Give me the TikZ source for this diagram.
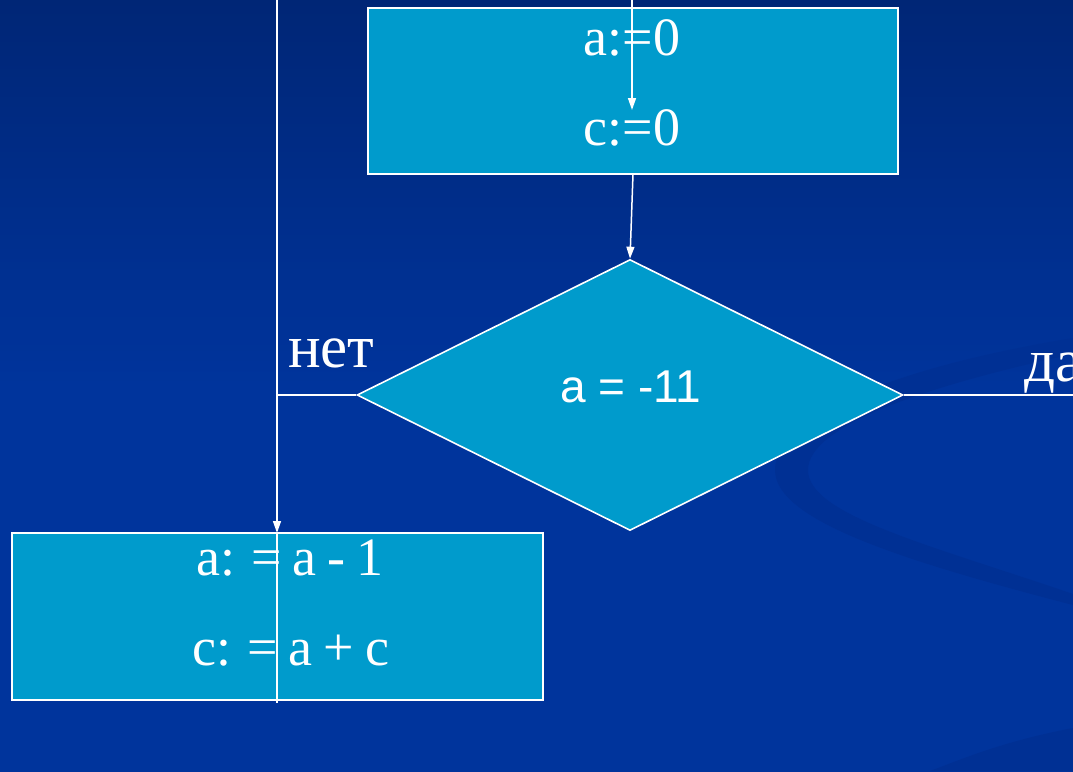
\documentclass[tikz,border=0pt]{standalone}
\usepackage{fontspec}
\setmainfont{Liberation Serif}
\newfontfamily\arialfont{Liberation Sans}
\usetikzlibrary{arrows.meta,shapes.geometric}
\definecolor{bgtop}{RGB}{0,38,118}
\definecolor{bgbot}{RGB}{0,52,156}
\definecolor{swoosh}{RGB}{0,48,148}
\definecolor{boxfill}{RGB}{0,155,204}
\newcommand{\tightspace}{\spaceskip=11pt\relax}
\tikzset{
  blk/.style={draw=white, line width=1.6pt, fill=boxfill, rectangle, inner sep=0pt},
  cnd/.style={draw=white, line width=1.6pt, fill=boxfill, diamond, inner sep=0pt},
  wire/.style={draw=white, line width=1.5pt},
  arr/.style={wire, -{Triangle[length=12pt,width=8pt]}},
  txt/.style={text=white, inner sep=0pt, anchor=base, font=\fontsize{54}{60}\selectfont},
  tighttxt/.style={txt, font=\fontsize{54}{60}\selectfont\tightspace},
  lbl/.style={text=white, inner sep=0pt, anchor=base west, font=\fontsize{61}{66}\selectfont},
}
\begin{document}
\begin{tikzpicture}[x=1pt,y=-1pt]
\useasboundingbox (0,0) rectangle (1073,771);
\clip (0,0) rectangle (1073,771);
% background
\shade[top color=bgtop, bottom color=bgbot, middle color=bgbot] (0,0) rectangle (1073,771);
\fill[swoosh] (1073,338) .. controls (880,370) and (775,420) .. (775,470)
  .. controls (775,520) and (900,560) .. (1073,605)
  -- (1073,594) .. controls (930,545) and (808,515) .. (808,470)
  .. controls (808,425) and (930,385) .. (1073,354) -- cycle;
\fill[swoosh] (1073,728) .. controls (1000,742) and (960,760) .. (930,771) -- (1073,771) -- cycle;
% nodes
\node[blk, minimum width=530pt, minimum height=166pt] (init) at (633,91) {};
\node[cnd, minimum width=546pt, minimum height=271pt] (cond) at (630,395) {};
\node[blk, minimum width=531pt, minimum height=167pt] (body) at (277.5,616.5) {};
% texts
\node[txt] (t1) at (632,55) {a:=0};
\node[txt] (t2) at (632,145) {c:=0};
\node[txt, font=\arialfont\fontsize{46}{52}\selectfont] (t3) at (631,402) {a = -11};
\node[tighttxt] (t4) at (290,575) {a: = a - 1};
\node[tighttxt] (t5) at (291,665) {c: = a + c};
\node[lbl] (no) at (288,367) {нет};
\node[lbl] (yes) at (1024,381) {да};
% connectors
\coordinate (top1) at (632,0);
\coordinate (tip1) at (632,110);
\coordinate (out1) at (633,174);
\coordinate (top2) at (277,0);
\coordinate (join) at (277,395);
\coordinate (tip2) at (277,533);
\coordinate (end2) at (277,703);
\coordinate (right) at (1073,395);
\draw[arr] (top1) -- (tip1);
\draw[arr] (out1) -- (cond.north);
\draw[wire] (cond.west) -- (join);
\draw[arr] (top2) -- (tip2);
\draw[wire] (tip2) -- (end2);
\draw[wire] (cond.east) -- (right);
\end{tikzpicture}
\end{document}
